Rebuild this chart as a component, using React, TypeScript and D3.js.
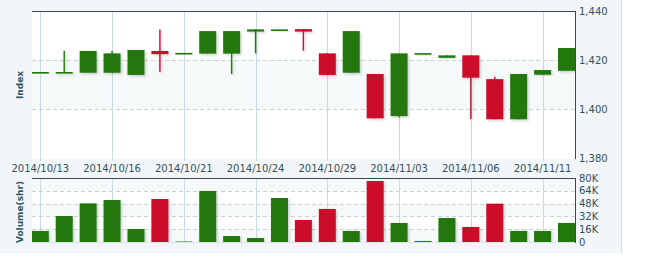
import React from "react";
import * as d3 from "d3";

// Daily index candles and traded volume
const dates = [
  "2014/10/13", "2014/10/14", "2014/10/15", "2014/10/16", "2014/10/17",
  "2014/10/20", "2014/10/21", "2014/10/22", "2014/10/23", "2014/10/24",
  "2014/10/27", "2014/10/28", "2014/10/29", "2014/10/30", "2014/10/31",
  "2014/11/03", "2014/11/04", "2014/11/05", "2014/11/06", "2014/11/07",
  "2014/11/10", "2014/11/11", "2014/11/12",
];
const openVals = [1415.0, 1415.0, 1414.8, 1414.8, 1413.9, 1423.7, 1422.8, 1422.6, 1422.6, 1431.6, 1432.4, 1432.6, 1422.7, 1414.8, 1414.3, 1397.1, 1422.6, 1420.9, 1421.9, 1412.2, 1395.8, 1414.0, 1415.6];
const highVals = [1415.1, 1423.8, 1423.7, 1423.7, 1424.1, 1432.5, 1422.9, 1431.8, 1431.8, 1432.5, 1432.5, 1432.6, 1422.7, 1431.8, 1414.3, 1422.7, 1422.8, 1421.9, 1421.9, 1413.2, 1414.3, 1415.9, 1424.9];
const lowVals = [1415.0, 1415.0, 1414.8, 1414.8, 1413.9, 1415.2, 1422.8, 1422.6, 1414.3, 1422.7, 1432.4, 1423.8, 1413.9, 1414.8, 1396.2, 1396.6, 1422.6, 1420.9, 1395.9, 1395.8, 1395.8, 1414.0, 1415.6];
const closeVals = [1415.1, 1415.1, 1423.7, 1422.7, 1424.1, 1422.4, 1422.9, 1431.8, 1431.8, 1432.5, 1432.5, 1431.6, 1413.9, 1431.8, 1396.2, 1422.7, 1422.8, 1421.9, 1412.8, 1395.8, 1414.3, 1415.9, 1424.9];
const volumeVals = [13800, 32500, 48300, 52500, 16300, 53800, 600, 63800, 7500, 5000, 55000, 27500, 41300, 13800, 76300, 23800, 1300, 30000, 18800, 47900, 13800, 13800, 23800];

const labelDates = ["2014/10/13", "2014/10/16", "2014/10/21", "2014/10/24", "2014/10/29", "2014/11/03", "2014/11/06", "2014/11/11"];
const priceTicks = [1380, 1400, 1420, 1440];
const volumeTicks = [0, 16000, 32000, 48000, 64000, 80000];

const W = 650;
const H = 279;
const plotL = 32;
const plotR = 575;
const priceTop = 11;
const priceBottom = 158;
const volTop = 178;
const volBottom = 242;
const panelR = 621;
const panelB = 253;

const UP = "#24780f";
const DOWN = "#cc0a2c";
const TEXT = "#34505f";
const FONT = "'DejaVu Sans', Verdana, sans-serif";

export default function App() {
  const x = d3.scalePoint<string>().domain(dates).range([40.3, 566.5]);
  const y = d3.scaleLinear().domain([1380, 1440]).range([priceBottom, priceTop]);
  const yv = d3.scaleLinear().domain([0, 80000]).range([volBottom, volTop]);
  const bw = 17;

  const fmtPrice = d3.format(",");
  const fmtVol = (v: number) => (v === 0 ? "0" : `${v / 1000}K`);

  return (
    <svg
      width={W}
      height={H}
      style={{ position: "absolute", left: 0, top: 0, fontFamily: FONT }}
    >
      <defs>
        <clipPath id="priceClip">
          <rect x={plotL} y={priceTop} width={plotR - plotL} height={priceBottom - priceTop} />
        </clipPath>
        <clipPath id="volClip">
          <rect x={plotL} y={volTop} width={plotR - plotL} height={volBottom - volTop} />
        </clipPath>
        <filter id="shadow" x="-20%" y="-20%" width="140%" height="140%">
          <feDropShadow dx="1.5" dy="1.5" stdDeviation="0.8" floodColor="#000" floodOpacity="0.18" />
        </filter>
      </defs>

      {/* outer panel */}
      <rect x={0} y={0} width={panelR} height={panelB} fill="#f2f6f8" />
      <line x1={panelR + 0.5} x2={panelR + 0.5} y1={0} y2={panelB} stroke="#d3dce2" />

      {/* price plot background with a shaded band */}
      <rect x={plotL} y={priceTop} width={plotR - plotL} height={priceBottom - priceTop + 1} fill="#ffffff" />
      <rect x={plotL} y={y(1420)} width={plotR - plotL} height={y(1400) - y(1420)} fill="#f6f9fa" />

      {/* volume plot background */}
      <rect x={plotL} y={volTop} width={plotR - plotL} height={volBottom - volTop} fill="#ffffff" />
      {[[80000, 64000], [48000, 32000], [16000, 0]].map(([a, b], i) => (
        <rect key={i} x={plotL} y={yv(a)} width={plotR - plotL} height={yv(b) - yv(a)} fill="#f6f9fa" />
      ))}

      {/* vertical grid lines */}
      {labelDates.map((d) => (
        <line
          key={d}
          x1={Math.round(x(d)!) + 0.5}
          x2={Math.round(x(d)!) + 0.5}
          y1={priceTop}
          y2={volBottom}
          stroke="#c9d8e1"
        />
      ))}

      {/* date label strip */}
      <rect x={plotL} y={161} width={plotR - plotL} height={volTop - 161} fill="#f2f6f8" />

      {/* horizontal dashed grid */}
      {priceTicks.filter((t) => t > 1380 && t < 1440).map((t) => (
        <line key={t} x1={plotL} x2={plotR} y1={Math.round(y(t)) + 0.5} y2={Math.round(y(t)) + 0.5} stroke="#c9d1d6" strokeDasharray="4,3" />
      ))}
      {volumeTicks.filter((t) => t > 0 && t < 80000).map((t) => (
        <line key={t} x1={plotL} x2={plotR} y1={Math.round(yv(t)) + 0.5} y2={Math.round(yv(t)) + 0.5} stroke="#c9d1d6" strokeDasharray="4,3" />
      ))}

      {/* candles */}
      <g clipPath="url(#priceClip)">
        {dates.map((d, i) => {
          const o = openVals[i];
          const c = closeVals[i];
          const up = c >= o;
          const col = up ? UP : DOWN;
          const cx = x(d)!;
          const top = y(Math.max(o, c));
          const bot = y(Math.min(o, c));
          const h = Math.max(bot - top, 1.6);
          return (
            <g key={d} filter="url(#shadow)">
              <line x1={cx} x2={cx} y1={y(highVals[i])} y2={y(lowVals[i])} stroke={col} strokeWidth={1.4} />
              <rect x={cx - bw / 2} y={top} width={bw} height={h} fill={col} />
            </g>
          );
        })}
      </g>

      {/* volume bars */}
      <g clipPath="url(#volClip)">
        {dates.map((d, i) => {
          const up = closeVals[i] >= openVals[i];
          const cx = x(d)!;
          return (
            <rect
              key={d}
              x={cx - bw / 2}
              y={yv(volumeVals[i])}
              width={bw}
              height={volBottom - yv(volumeVals[i])}
              fill={up ? UP : DOWN}
              filter="url(#shadow)"
            />
          );
        })}
      </g>

      {/* frame lines */}
      <line x1={plotL} x2={plotR} y1={priceTop + 0.5} y2={priceTop + 0.5} stroke="#3a4852" />
      <line x1={plotR + 0.5} x2={plotR + 0.5} y1={priceTop} y2={priceBottom + 1} stroke="#3a4852" />
      <line x1={plotL} x2={plotR} y1={volTop + 0.5} y2={volTop + 0.5} stroke="#3a4852" />
      <line x1={plotR + 0.5} x2={plotR + 0.5} y1={volTop} y2={volBottom + 1} stroke="#3a4852" />
      <line x1={plotL} x2={plotR} y1={volBottom + 0.5} y2={volBottom + 0.5} stroke="#dde5ea" />

      {/* date labels */}
      {labelDates.map((d) => (
        <text key={d} x={x(d)!} y={172} textAnchor="middle" fontSize={10} fill={TEXT}>
          {d}
        </text>
      ))}

      {/* price axis labels */}
      {priceTicks.map((t) => (
        <text key={t} x={579} y={y(t)} dy="0.35em" fontSize={10} fill={TEXT}>
          {fmtPrice(t)}
        </text>
      ))}

      {/* volume axis labels */}
      {volumeTicks.map((t) => (
        <text key={t} x={579} y={yv(t)} dy="0.35em" fontSize={10} fill={TEXT}>
          {fmtVol(t)}
        </text>
      ))}

      {/* axis titles */}
      <text
        transform={`translate(23,85) rotate(-90)`}
        textAnchor="middle"
        fontSize={9}
        fontWeight="bold"
        fill="#2b5866"
      >
        Index
      </text>
      <text
        transform={`translate(23,212) rotate(-90)`}
        textAnchor="middle"
        fontSize={9}
        fontWeight="bold"
        fill="#2b5866"
      >
        Volume(shr)
      </text>
    </svg>
  );
}
